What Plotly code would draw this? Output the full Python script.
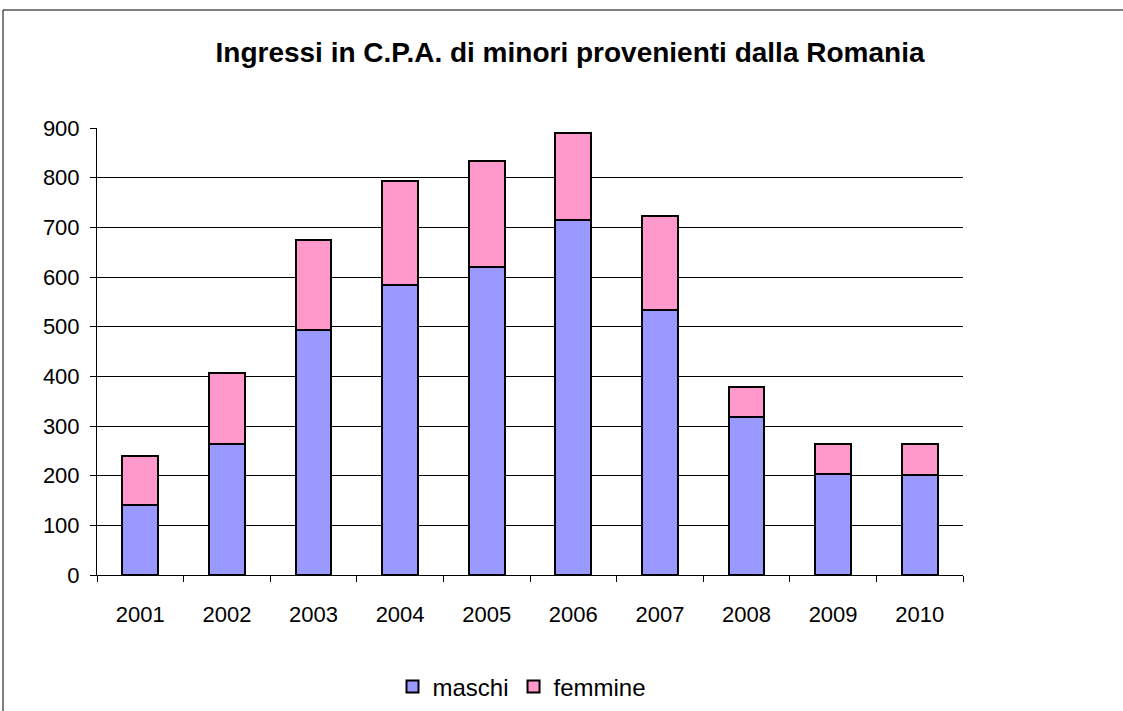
import plotly.graph_objects as go

years = ["2001", "2002", "2003", "2004", "2005", "2006", "2007", "2008", "2009", "2010"]
maschi = [141, 264, 493, 584, 620, 715, 533, 319, 204, 201]
femmine = [99, 142, 182, 210, 213, 174, 189, 59, 60, 63]

W, H = 1123, 711
L, R, T, B = 97, 160, 128, 136
pw = W - L - R
ph = H - T - B

fig = go.Figure()
fig.add_trace(go.Bar(x=years, y=maschi, name="maschi",
                     marker=dict(color="#9999FF", line=dict(color="black", width=2))))
fig.add_trace(go.Bar(x=years, y=femmine, name="femmine",
                     marker=dict(color="#FF99CC", line=dict(color="black", width=2))))

font = "Liberation Sans, Arial, sans-serif"
fig.update_layout(
    barmode="stack",
    bargap=0.585,
    width=W, height=H,
    margin=dict(l=L, r=R, t=T, b=B, autoexpand=False),
    paper_bgcolor="white",
    plot_bgcolor="white",
    font=dict(family=font, size=22, color="black"),
    title=dict(text="<b>Ingressi in C.P.A. di minori provenienti dalla Romania</b>",
               x=570 / W, xanchor="center", y=1 - 52 / H, yanchor="middle",
               font=dict(family=font, size=28, color="black")),
    legend=dict(orientation="h", x=(522 - L) / pw, xanchor="center",
                y=(H - B - 687) / ph, yanchor="middle",
                font=dict(family=font, size=24, color="black"),
                itemwidth=30, traceorder="normal"),
    xaxis=dict(showline=True, linecolor="black", linewidth=1,
               ticks="outside", ticklen=6, tickcolor="black", tickson="boundaries",
               showgrid=False, tickfont=dict(size=22), ticklabelstandoff=20),
    yaxis=dict(range=[0, 900], dtick=100, showline=True, linecolor="black", linewidth=1,
               ticks="outside", ticklen=6, tickcolor="black",
               showgrid=True, gridcolor="black", gridwidth=1,
               tickfont=dict(size=22), zeroline=False, ticklabelstandoff=6),
    shapes=[dict(type="rect", xref="paper", yref="paper",
                 x0=(3 - L) / pw, x1=(W + 10 - L) / pw,
                 y0=(H - B - (H + 10)) / ph, y1=(H - B - 10) / ph,
                 line=dict(color="black", width=1), fillcolor="rgba(0,0,0,0)",
                 layer="below")],
)

fig.write_html("out.html", config={"displayModeBar": False},
               post_script="document.body.style.margin='0';")
